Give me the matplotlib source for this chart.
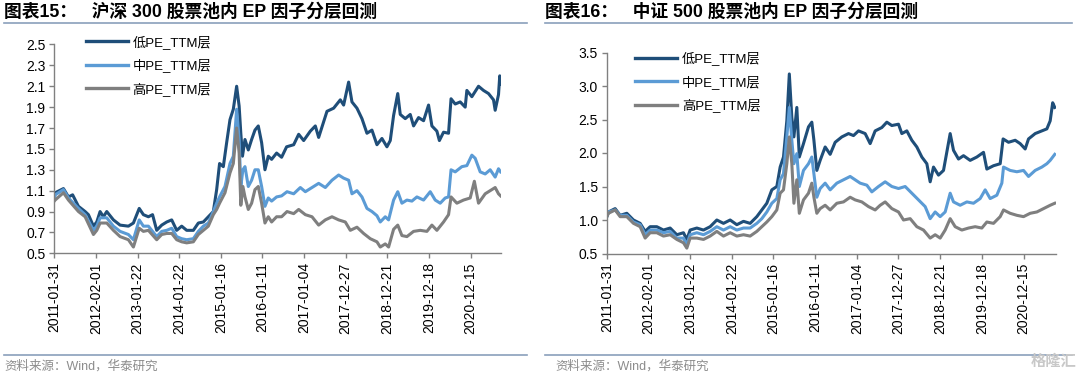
import matplotlib
matplotlib.use('Agg')
import matplotlib.pyplot as plt
from matplotlib.lines import Line2D

plt.rcParams['font.family'] = ['Liberation Sans', 'Noto Sans CJK SC']

# x positions are in "tick units": tick k sits at position k (irregular trading-day labels)
tick_labels = ['2011-01-31', '2012-02-01', '2013-01-22', '2014-01-22', '2015-01-16',
               '2016-01-11', '2017-01-04', '2017-12-27', '2018-12-21', '2019-12-18',
               '2020-12-15']
series_names = ['低PE_TTM层', '中PE_TTM层', '高PE_TTM层']

# ---- 沪深300 ----
hs_low_x = [0.0, 0.02, 0.22, 0.34, 0.44, 0.58, 0.74, 0.82, 0.94, 1.02, 1.10, 1.18, 1.26, 1.42,
            1.58, 1.78, 1.90, 2.04, 2.14, 2.26, 2.36, 2.46, 2.58, 2.70, 2.82, 2.94, 3.06, 3.18,
            3.34, 3.46, 3.58, 3.70, 3.82, 3.90, 3.97, 4.06, 4.14, 4.22, 4.30, 4.38, 4.44, 4.48,
            4.52, 4.58, 4.66, 4.74, 4.82, 4.90, 4.98, 5.06, 5.14, 5.22, 5.34, 5.46, 5.58, 5.75,
            5.87, 5.99, 6.15, 6.27, 6.35, 6.55, 6.71, 6.87, 6.95, 7.07, 7.15, 7.27, 7.39, 7.51,
            7.63, 7.75, 7.87, 7.99, 8.07, 8.15, 8.25, 8.31, 8.43, 8.55, 8.63, 8.75, 8.87, 8.99,
            9.07, 9.19, 9.25, 9.35, 9.47, 9.53, 9.63, 9.75, 9.87, 9.91, 10.03, 10.19, 10.31,
            10.43, 10.55, 10.59, 10.67, 10.70, 10.72]
hs_low = [1.02, 1.08, 1.12, 1.04, 1.06, 0.95, 0.90, 0.87, 0.76, 0.80, 0.90, 0.85, 0.90, 0.82,
          0.77, 0.76, 0.79, 0.93, 0.87, 0.85, 0.87, 0.72, 0.77, 0.80, 0.82, 0.72, 0.76, 0.72,
          0.72, 0.79, 0.80, 0.85, 0.90, 1.11, 1.36, 1.33, 1.56, 1.78, 1.88, 2.10, 1.91, 1.65,
          1.43, 1.59, 1.49, 1.59, 1.68, 1.72, 1.56, 1.30, 1.43, 1.40, 1.46, 1.42, 1.52, 1.54,
          1.64, 1.58, 1.67, 1.72, 1.61, 1.86, 1.89, 1.97, 1.92, 2.14, 1.95, 1.89, 1.79, 1.65,
          1.68, 1.54, 1.60, 1.52, 1.58, 1.82, 2.03, 1.83, 1.79, 1.83, 1.72, 1.80, 1.77, 1.92,
          1.72, 1.67, 1.58, 1.66, 1.65, 1.98, 1.93, 1.95, 1.90, 2.06, 2.00, 2.10, 2.06,
          2.03, 1.97, 1.87, 2.02, 2.20, 2.12]

hs_mid_x = [0.0, 0.02, 0.22, 0.34, 0.58, 0.74, 0.94, 1.02, 1.10, 1.26, 1.42, 1.58, 1.78, 1.90,
            2.04, 2.14, 2.26, 2.46, 2.58, 2.70, 2.82, 2.94, 3.06, 3.18, 3.34, 3.46, 3.58, 3.70,
            3.82, 3.90, 3.97, 4.10, 4.22, 4.30, 4.38, 4.44, 4.48, 4.53, 4.58, 4.66, 4.74, 4.82,
            4.90, 4.98, 5.06, 5.14, 5.22, 5.34, 5.46, 5.59, 5.75, 5.91, 6.03, 6.19, 6.35, 6.51,
            6.67, 6.83, 6.95, 7.07, 7.15, 7.27, 7.39, 7.51, 7.63, 7.75, 7.83, 7.95, 8.03, 8.15,
            8.25, 8.35, 8.47, 8.59, 8.71, 8.87, 9.03, 9.15, 9.27, 9.39, 9.47, 9.53, 9.63, 9.79,
            9.91, 10.03, 10.11, 10.23, 10.35, 10.47, 10.59, 10.67, 10.72]
hs_mid = [1.02, 1.06, 1.11, 1.03, 0.93, 0.87, 0.72, 0.76, 0.84, 0.84, 0.76, 0.71, 0.68, 0.63,
          0.82, 0.76, 0.76, 0.66, 0.71, 0.72, 0.74, 0.66, 0.64, 0.63, 0.64, 0.71, 0.76, 0.79,
          0.90, 0.98, 1.04, 1.14, 1.36, 1.43, 1.88, 1.59, 1.14, 1.30, 1.33, 1.14, 1.20, 1.30,
          1.30, 1.14, 0.95, 1.03, 1.00, 1.04, 1.05, 1.09, 1.07, 1.13, 1.09, 1.13, 1.17, 1.13,
          1.20, 1.25, 1.22, 1.20, 1.07, 1.10, 1.04, 0.93, 0.90, 0.86, 0.80, 0.85, 0.82, 1.01,
          1.09, 0.98, 1.01, 1.00, 1.04, 1.01, 1.09, 1.01, 0.98, 1.03, 1.04, 1.30, 1.28, 1.33,
          1.34, 1.44, 1.41, 1.28, 1.26, 1.30, 1.23, 1.31, 1.28]

hs_high_x = [0.0, 0.02, 0.22, 0.34, 0.58, 0.74, 0.94, 1.02, 1.10, 1.26, 1.42, 1.58, 1.78, 1.90,
             2.04, 2.14, 2.26, 2.46, 2.58, 2.70, 2.82, 2.94, 3.06, 3.18, 3.34, 3.46, 3.58, 3.70,
             3.82, 3.90, 3.97, 4.10, 4.22, 4.30, 4.38, 4.44, 4.48, 4.53, 4.58, 4.66, 4.74, 4.82,
             4.90, 4.98, 5.06, 5.14, 5.22, 5.34, 5.46, 5.59, 5.75, 5.87, 6.03, 6.19, 6.35, 6.51,
             6.67, 6.83, 6.99, 7.11, 7.27, 7.43, 7.59, 7.75, 7.83, 7.95, 8.03, 8.15, 8.25, 8.35,
             8.47, 8.63, 8.79, 8.95, 9.07, 9.19, 9.35, 9.47, 9.53, 9.67, 9.83, 9.99, 10.09, 10.19,
             10.35, 10.47, 10.59, 10.67, 10.72]
hs_high = [1.00, 1.01, 1.08, 1.01, 0.90, 0.85, 0.68, 0.72, 0.79, 0.79, 0.72, 0.66, 0.63, 0.56,
           0.74, 0.71, 0.72, 0.63, 0.68, 0.69, 0.69, 0.63, 0.61, 0.60, 0.61, 0.68, 0.72, 0.76,
           0.87, 0.92, 0.98, 1.08, 1.27, 1.36, 1.70, 1.46, 0.96, 1.14, 1.04, 0.92, 0.98, 1.11,
           1.14, 0.98, 0.79, 0.85, 0.80, 0.85, 0.85, 0.90, 0.88, 0.92, 0.87, 0.85, 0.77, 0.82,
           0.85, 0.82, 0.80, 0.72, 0.75, 0.69, 0.64, 0.61, 0.56, 0.59, 0.56, 0.73, 0.77, 0.67,
           0.66, 0.71, 0.72, 0.71, 0.77, 0.72, 0.80, 0.87, 1.04, 0.98, 1.01, 1.03, 1.19, 0.98,
           1.07, 1.10, 1.13, 1.07, 1.05]

# ---- 中证500 ----
zz_low_x = [0.0, 0.04, 0.20, 0.32, 0.48, 0.64, 0.80, 0.92, 1.04, 1.20, 1.36, 1.52, 1.68, 1.84,
            1.92, 2.00, 2.16, 2.32, 2.48, 2.64, 2.80, 2.96, 3.12, 3.28, 3.44, 3.60, 3.72, 3.84,
            3.96, 4.08, 4.16, 4.24, 4.32, 4.38, 4.44, 4.49, 4.56, 4.62, 4.72, 4.84, 4.92, 4.97,
            5.04, 5.12, 5.24, 5.36, 5.48, 5.64, 5.80, 5.92, 6.04, 6.20, 6.32, 6.44, 6.60, 6.72,
            6.84, 7.00, 7.08, 7.20, 7.32, 7.44, 7.56, 7.68, 7.76, 7.84, 7.96, 8.08, 8.24, 8.32,
            8.44, 8.56, 8.72, 8.88, 9.04, 9.12, 9.28, 9.44, 9.51, 9.64, 9.80, 9.92, 10.04, 10.12,
            10.28, 10.44, 10.56, 10.64, 10.70, 10.75]
zz_low = [1.05, 1.12, 1.17, 1.07, 1.10, 1.00, 0.95, 0.83, 0.90, 0.90, 0.85, 0.88, 0.78, 0.81,
          0.71, 0.85, 0.88, 0.85, 0.90, 1.00, 0.95, 1.00, 0.93, 0.98, 0.95, 1.05, 1.15, 1.25,
          1.45, 1.50, 1.79, 1.94, 2.48, 3.18, 2.53, 2.24, 2.68, 1.94, 2.14, 2.39, 2.46, 2.19,
          1.74, 1.89, 2.09, 1.98, 2.16, 2.24, 2.29, 2.26, 2.33, 2.29, 2.14, 2.33, 2.38, 2.46,
          2.41, 2.43, 2.29, 2.33, 2.19, 2.09, 1.94, 1.84, 1.57, 1.79, 1.67, 1.74, 2.29, 2.04,
          1.91, 1.96, 1.89, 1.94, 2.01, 1.76, 1.81, 1.84, 2.21, 2.16, 2.19, 2.14, 2.06, 2.21,
          2.29, 2.33, 2.36, 2.48, 2.75, 2.68]

zz_mid_x = [0.0, 0.04, 0.20, 0.32, 0.48, 0.64, 0.80, 0.92, 1.04, 1.20, 1.36, 1.52, 1.68, 1.84,
            1.92, 2.00, 2.16, 2.32, 2.48, 2.64, 2.80, 2.96, 3.12, 3.28, 3.44, 3.60, 3.72, 3.84,
            3.96, 4.08, 4.16, 4.24, 4.32, 4.38, 4.44, 4.49, 4.56, 4.62, 4.72, 4.84, 4.92, 4.97,
            5.04, 5.12, 5.24, 5.36, 5.52, 5.68, 5.84, 5.96, 6.08, 6.24, 6.36, 6.52, 6.68, 6.84,
            7.00, 7.16, 7.32, 7.48, 7.64, 7.76, 7.88, 8.00, 8.12, 8.24, 8.32, 8.48, 8.64, 8.80,
            8.96, 9.08, 9.20, 9.36, 9.48, 9.52, 9.68, 9.84, 10.00, 10.12, 10.28, 10.44, 10.56,
            10.64, 10.75]
zz_mid = [1.05, 1.12, 1.15, 1.07, 1.07, 0.97, 0.93, 0.78, 0.85, 0.85, 0.81, 0.83, 0.73, 0.73,
          0.63, 0.78, 0.81, 0.78, 0.83, 0.90, 0.85, 0.90, 0.85, 0.88, 0.88, 0.95, 1.02, 1.12,
          1.25, 1.32, 1.60, 1.69, 2.24, 2.68, 2.19, 1.84, 1.99, 1.50, 1.74, 1.84, 1.94, 1.69,
          1.34, 1.47, 1.55, 1.45, 1.55, 1.60, 1.65, 1.60, 1.55, 1.52, 1.42, 1.50, 1.57, 1.50,
          1.47, 1.50, 1.40, 1.30, 1.20, 1.02, 1.12, 1.05, 1.12, 1.40, 1.27, 1.22, 1.27, 1.25,
          1.32, 1.45, 1.32, 1.37, 1.55, 1.79, 1.74, 1.72, 1.74, 1.65, 1.74, 1.79, 1.84,
          1.89, 1.98]

zz_high_x = [0.0, 0.04, 0.20, 0.32, 0.48, 0.64, 0.80, 0.92, 1.04, 1.20, 1.36, 1.52, 1.68, 1.84,
             1.92, 2.00, 2.16, 2.32, 2.48, 2.64, 2.80, 2.96, 3.12, 3.28, 3.44, 3.60, 3.72, 3.84,
             3.96, 4.08, 4.16, 4.24, 4.32, 4.38, 4.44, 4.49, 4.56, 4.62, 4.72, 4.84, 4.92, 4.97,
             5.04, 5.12, 5.24, 5.36, 5.52, 5.68, 5.84, 5.96, 6.12, 6.28, 6.44, 6.56, 6.68, 6.84,
             7.00, 7.12, 7.28, 7.44, 7.60, 7.76, 7.88, 8.00, 8.12, 8.24, 8.36, 8.52, 8.68, 8.84,
             9.00, 9.12, 9.28, 9.44, 9.52, 9.68, 9.84, 10.00, 10.16, 10.32, 10.48, 10.64, 10.75]
zz_high = [1.05, 1.10, 1.15, 1.05, 1.05, 0.95, 0.90, 0.73, 0.81, 0.81, 0.76, 0.78, 0.71, 0.66,
           0.58, 0.73, 0.73, 0.71, 0.76, 0.83, 0.76, 0.81, 0.76, 0.78, 0.76, 0.83, 0.90, 0.97,
           1.05, 1.15, 1.40, 1.45, 1.84, 2.24, 1.84, 1.25, 1.60, 1.10, 1.30, 1.40, 1.55, 1.34,
           1.10, 1.17, 1.22, 1.15, 1.25, 1.27, 1.34, 1.30, 1.27, 1.20, 1.15, 1.22, 1.27, 1.17,
           1.12, 1.00, 1.02, 0.90, 0.85, 0.73, 0.78, 0.73, 0.85, 1.02, 0.90, 0.85, 0.88, 0.90,
           0.88, 0.97, 0.95, 1.05, 1.15, 1.10, 1.07, 1.05, 1.10, 1.12, 1.17, 1.22, 1.25]

colors = ['#1f4e79', '#5b9bd5', '#7f7f7f']
line_c = '#8aa0bb'
W, H = 1080, 374

fig = plt.figure(figsize=(W / 100, H / 100), dpi=100)


def px_axes(l, t, r, b):
    # pixel box -> figure fraction rect
    return [l / W, 1 - b / H, (r - l) / W, (b - t) / H]


def draw_panel(rect, xs, ys, xmax, yticks, ylabels, leg_anchor):
    ax = fig.add_axes(rect)
    for x, y, c, name in zip(xs, ys, colors, series_names):
        ax.plot(x, y, color=c, lw=2.2, label=name, solid_joinstyle='round')
    ax.set_xlim(0, xmax)
    ax.set_ylim(yticks[0], yticks[-1])
    ax.set_yticks(yticks)
    ax.set_yticklabels(ylabels, fontsize=10)
    ax.set_xticks(range(len(tick_labels)))
    ax.set_xticklabels(tick_labels, rotation=90, fontsize=10)
    for s in ['top', 'right']:
        ax.spines[s].set_visible(False)
    for s in ['left', 'bottom']:
        ax.spines[s].set_color('#808080')
        ax.spines[s].set_linewidth(1.0)
    ax.tick_params(axis='both', color='#808080', length=3.5, width=1.0, pad=3)
    handles = [Line2D([], [], color=c, lw=2.4) for c in colors]
    ax.legend(handles, series_names, loc='upper left', bbox_to_anchor=leg_anchor,
              frameon=False, fontsize=9.5, handlelength=3.2, handletextpad=0.35,
              labelspacing=0.72, borderaxespad=0, borderpad=0)
    return ax


draw_panel(px_axes(54.3, 44.5, 501, 253.3),
           [hs_low_x, hs_mid_x, hs_high_x], [hs_low, hs_mid, hs_high], 10.73,
           [0.5 + 0.2 * i for i in range(11)],
           ['%.1f' % (0.5 + 0.2 * i) for i in range(11)], (0.07, 1.045))

draw_panel(px_axes(606.8, 52.5, 1055.6, 253.5),
           [zz_low_x, zz_mid_x, zz_high_x], [zz_low, zz_mid, zz_high], 10.77,
           [0.5 + 0.5 * i for i in range(7)],
           ['%.1f' % (0.5 + 0.5 * i) for i in range(7)], (0.063, 1.005))

# titles, rules and source notes
fig.text(4 / W, 1 - 12 / H, '图表15：   沪深 300 股票池内 EP 因子分层回测', fontsize=12.8,
         fontweight='bold', va='center', ha='left')
fig.text(545 / W, 1 - 12 / H, '图表16：   中证 500 股票池内 EP 因子分层回测', fontsize=12.8,
         fontweight='bold', va='center', ha='left')
for x0, x1 in [(4, 527), (545, 1072)]:
    fig.add_artist(Line2D([x0 / W, x1 / W], [1 - 23 / H, 1 - 23 / H], color=line_c, lw=1.2))
    fig.add_artist(Line2D([x0 / W, x1 / W], [1 - 355 / H, 1 - 355 / H], color=line_c, lw=1.2))
fig.text(4 / W, 1 - 366 / H, '资料来源：Wind，华泰研究', fontsize=9, color='#8c8c8c',
         va='center', ha='left')
fig.text(555 / W, 1 - 366 / H, '资料来源：Wind，华泰研究', fontsize=9, color='#8c8c8c',
         va='center', ha='left')
fig.text(1076 / W, 1 - 362 / H, '格隆汇', fontsize=11, color='#c8c8c8', va='center',
         ha='right', fontweight='bold')

fig.savefig('out.png', dpi=100)
